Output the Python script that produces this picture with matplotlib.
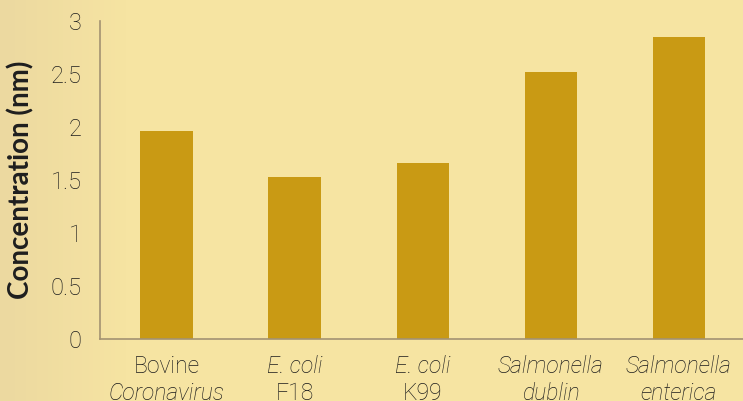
import numpy as np
import matplotlib.pyplot as plt
from matplotlib.colors import LinearSegmentedColormap

# data
line1 = ['Bovine', 'E. coli', 'E. coli', 'Salmonella', 'Salmonella']
line2 = ['Coronavirus', 'F18', 'K99', 'dublin', 'enterica']
italic1 = [False, True, True, True, True]
italic2 = [True, False, False, True, True]
values = [1.96, 1.53, 1.66, 2.52, 2.85]
yticks = [0, 0.5, 1, 1.5, 2, 2.5, 3]
ytick_labels = ['0', '0.5', '1', '1.5', '2', '2.5', '3']

bg = '#f6e4a2'
bar_color = '#c99a14'
txt = '#1c1c1c'
font = 'Roboto'

fig = plt.figure(figsize=(7.43, 4.01), dpi=100)
fig.patch.set_facecolor(bg)

# slightly darker strip on the far left
bgax = fig.add_axes([0, 0, 1, 1], zorder=-1)
grad = np.linspace(0, 1, 200).reshape(1, -1)
cm = LinearSegmentedColormap.from_list('bg', ['#ecd9a0', bg])
bgax.imshow(np.clip(grad * 6, 0, 1), aspect='auto', cmap=cm, extent=[0, 1, 0, 1])
bgax.axis('off')

ax = fig.add_axes([100 / 743, 1 - 339 / 401, 1 - 100 / 743, (339 - 21) / 401])
ax.set_facecolor('none')

x = np.arange(len(values))
ax.bar(x, values, width=0.41, color=bar_color, zorder=2)

ax.set_xlim(-0.52, 4.5)
ax.set_ylim(0, 3)
ax.set_yticks(yticks)
ax.set_yticklabels(ytick_labels, fontfamily=font, fontweight='light', fontsize=17, color=txt)
ax.tick_params(axis='y', length=0, pad=13)
ax.set_xticks([])

for s in ['top', 'right']:
    ax.spines[s].set_visible(False)
for s in ['left', 'bottom']:
    ax.spines[s].set_color('#a39272')
    ax.spines[s].set_linewidth(1.2)

ax.text(-0.123, 0.5, 'Concentration (nm)', transform=ax.transAxes, rotation=90,
        ha='center', va='center', fontfamily='Lato', fontweight='bold', fontsize=20,
        color='#1e1e1e')

tr = ax.get_xaxis_transform()
for i in range(len(values)):
    ax.text(x[i], -34 / 318, line1[i], transform=tr, ha='center', va='baseline',
            fontfamily=font, fontweight='light', fontsize=16.5, color=txt,
            style='italic' if italic1[i] else 'normal')
    ax.text(x[i], -61 / 318, line2[i], transform=tr, ha='center', va='baseline',
            fontfamily=font, fontweight='light', fontsize=16.5, color=txt,
            style='italic' if italic2[i] else 'normal')

fig.savefig('out.png', dpi=100, facecolor=bg)
